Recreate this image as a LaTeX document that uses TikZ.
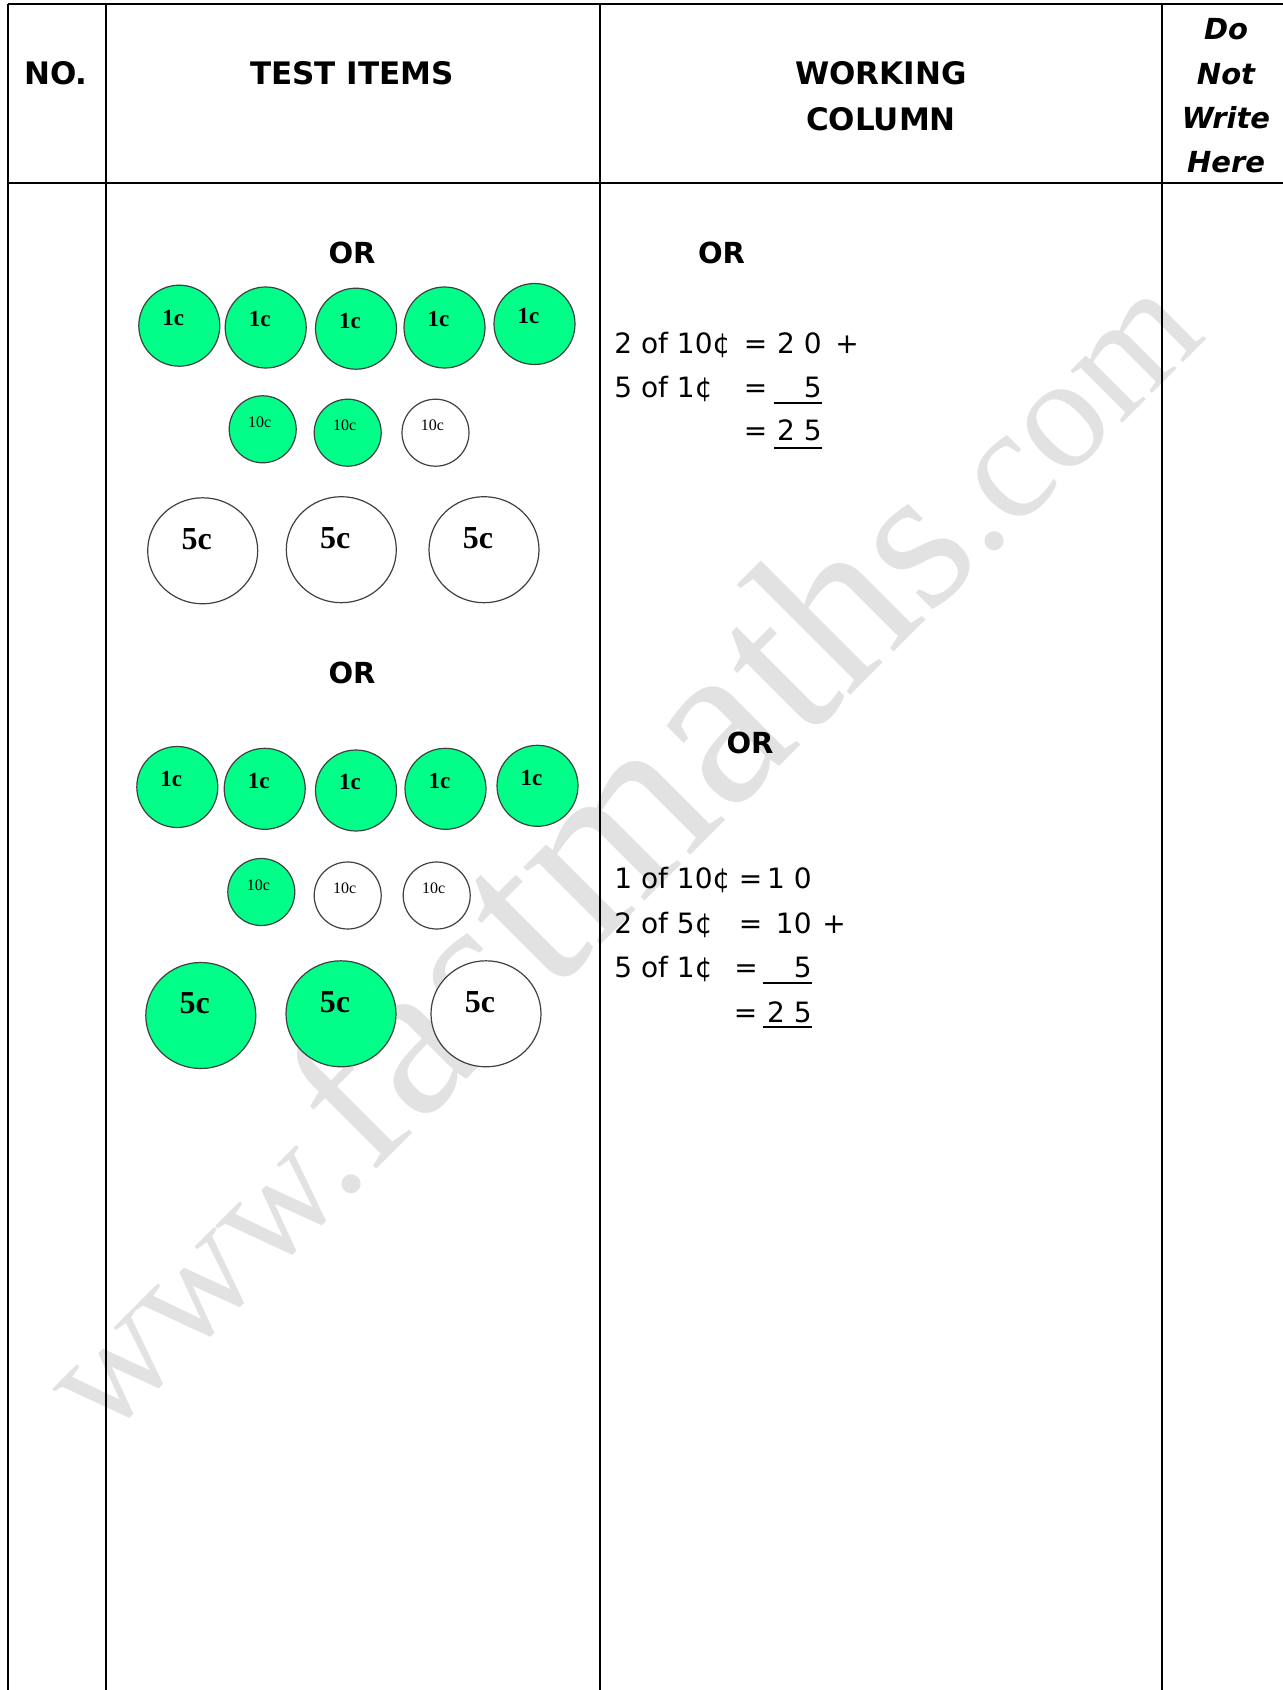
\documentclass[tikz,border=0pt]{standalone}
\usepackage{fontspec}
\setmainfont{DejaVu Sans}
\newfontfamily\coinfont{Liberation Serif}
\usetikzlibrary{shapes.geometric}

\definecolor{coingreen}{RGB}{0,255,136}
\definecolor{wmgray}{RGB}{226,226,226}

\newcommand\wmsize[1]{\fontsize{#1}{#1}\selectfont}

\begin{document}
\begin{tikzpicture}[
  x=0.5pt, y=-0.5pt,
  hd/.style={font=\fontsize{15.5}{23}\selectfont\bfseries, align=center, inner sep=0pt},
  dnw/.style={font=\fontsize{14.5}{22.2}\selectfont\bfseries\itshape, align=center, inner sep=0pt},
  ortext/.style={font=\fontsize{14.5}{18}\selectfont\bfseries, inner sep=0pt},
  wk/.style={font=\fontsize{14}{18}\selectfont, inner sep=0pt},
  rule/.style={line width=1pt},
  ul/.style={line width=1.4pt},
  coin/.style={draw=black!75, line width=0.6pt, inner sep=0pt},
  one/.style={coin, circle, minimum size=40.5pt,
    label={[font=\coinfont\bfseries\fontsize{11.5}{12}\selectfont, xshift=-3pt, yshift=4pt]center:1c}},
  ten/.style={coin, circle, minimum size=33.5pt,
    label={[font=\coinfont\fontsize{8}{9}\selectfont, xshift=-1.5pt, yshift=3.5pt]center:10c}},
  five/.style={coin, ellipse, minimum width=55pt, minimum height=53pt,
    label={[font=\coinfont\bfseries\fontsize{16}{17}\selectfont, xshift=-3pt, yshift=6pt]center:5c}},
  gr/.style={fill=coingreen},
  wh/.style={fill=white}
]
\useasboundingbox (0,0) rectangle (1283,1690);
\fill[white] (0,0) rectangle (1283,1690);

% watermark
\node[font=\coinfont, text=wmgray, rotate=45, anchor=base west, inner sep=0pt]
  (wm) at (104,1442) {\wmsize{80}www.\wmsize{103}f\wmsize{112}as\wmsize{119}tma\wmsize{114}th\wmsize{103}s\wmsize{80}.com};

% table
\draw[rule] (7.5,4) -- (1283,4);
\draw[rule] (7.5,183.5) -- (1283,183.5);
\foreach \x in {7.5,106,599.5,1161.5}
  \draw[rule] (\x,4) -- (\x,1690);

\node[hd] (no) at (56,73) {NO.};
\node[hd] (items) at (352,73) {TEST ITEMS};
\node[hd] (work) at (881,96) {WORKING\\COLUMN};
\node[dnw] (dnw) at (1226,96) {Do\\Not\\Write\\Here};

% first set of coins
\node[ortext] (or1) at (352,253) {OR};
\node[one, gr] (a1) at (179.3,325.7) {};
\node[one, gr] (a2) at (265.7,327.5) {};
\node[one, gr] (a3) at (356,328.7) {};
\node[one, gr] (a4) at (444.5,327.5) {};
\node[one, gr] (a5) at (534.5,324) {};
\node[ten, gr] (b1) at (262.7,429.3) {};
\node[ten, gr] (b2) at (347.7,432.7) {};
\node[ten, wh] (b3) at (435.5,432.7) {};
\node[five, wh] (c1) at (202.7,550.8) {};
\node[five, wh] (c2) at (341.3,549.7) {};
\node[five, wh] (c3) at (484,549.7) {};

% second set of coins
\node[ortext] (or2) at (352,673) {OR};
\node[one, gr] (d1) at (177.3,787) {};
\node[one, gr] (d2) at (264.7,788.8) {};
\node[one, gr] (d3) at (356,790.5) {};
\node[one, gr] (d4) at (445.5,788.8) {};
\node[one, gr] (d5) at (537.5,785.8) {};
\node[ten, gr] (e1) at (261.3,892) {};
\node[ten, wh] (e2) at (347.7,895.5) {};
\node[ten, wh] (e3) at (436.7,895.5) {};
\node[five, gr] (f1) at (200.8,1015.5) {};
\node[five, gr] (f2) at (341,1013.8) {};
\node[five, wh] (f3) at (486,1013.8) {};

% first working
\node[ortext] (or3) at (721.5,253) {OR};
\node[wk, anchor=base west] (p1) at (614,353) {2 of 10¢};
\node[wk, anchor=base] (q1) at (755.5,353) {=};
\node[wk, anchor=base east] (r1) at (822,353) {2 0};
\node[wk, anchor=base west] (s1) at (835,353) {+};
\node[wk, anchor=base west] (p2) at (614,397) {5 of 1¢};
\node[wk, anchor=base] (q2) at (755.5,397) {=};
\node[wk, anchor=base east] (r2) at (822,397) {5};
\draw[ul] (774,403) -- (822,403);
\node[wk, anchor=base] (q3) at (755.5,440) {=};
\node[wk, anchor=base east] (r3) at (822,440) {2 5};
\draw[ul] (774,448) -- (822,448);

% second working
\node[ortext] (or4) at (750,743) {OR};
\node[wk, anchor=base west] (t1) at (614,888) {1 of 10¢};
\node[wk, anchor=base] (u1) at (750.5,888) {=};
\node[wk, anchor=base east] (v1) at (812,888) {1 0};
\node[wk, anchor=base west] (t2) at (614,933) {2 of 5¢};
\node[wk, anchor=base] (u2) at (750.5,933) {=};
\node[wk, anchor=base east] (v2) at (812,933) {10};
\node[wk, anchor=base west] (w2) at (822,933) {+};
\node[wk, anchor=base west] (t3) at (614,977) {5 of 1¢};
\node[wk, anchor=base] (u3) at (746,977) {=};
\node[wk, anchor=base east] (v3) at (812,977) {5};
\draw[ul] (763,983) -- (812,983);
\node[wk, anchor=base] (u4) at (745.5,1022) {=};
\node[wk, anchor=base east] (v4) at (812,1022) {2 5};
\draw[ul] (763,1027) -- (812,1027);
\end{tikzpicture}
\end{document}
